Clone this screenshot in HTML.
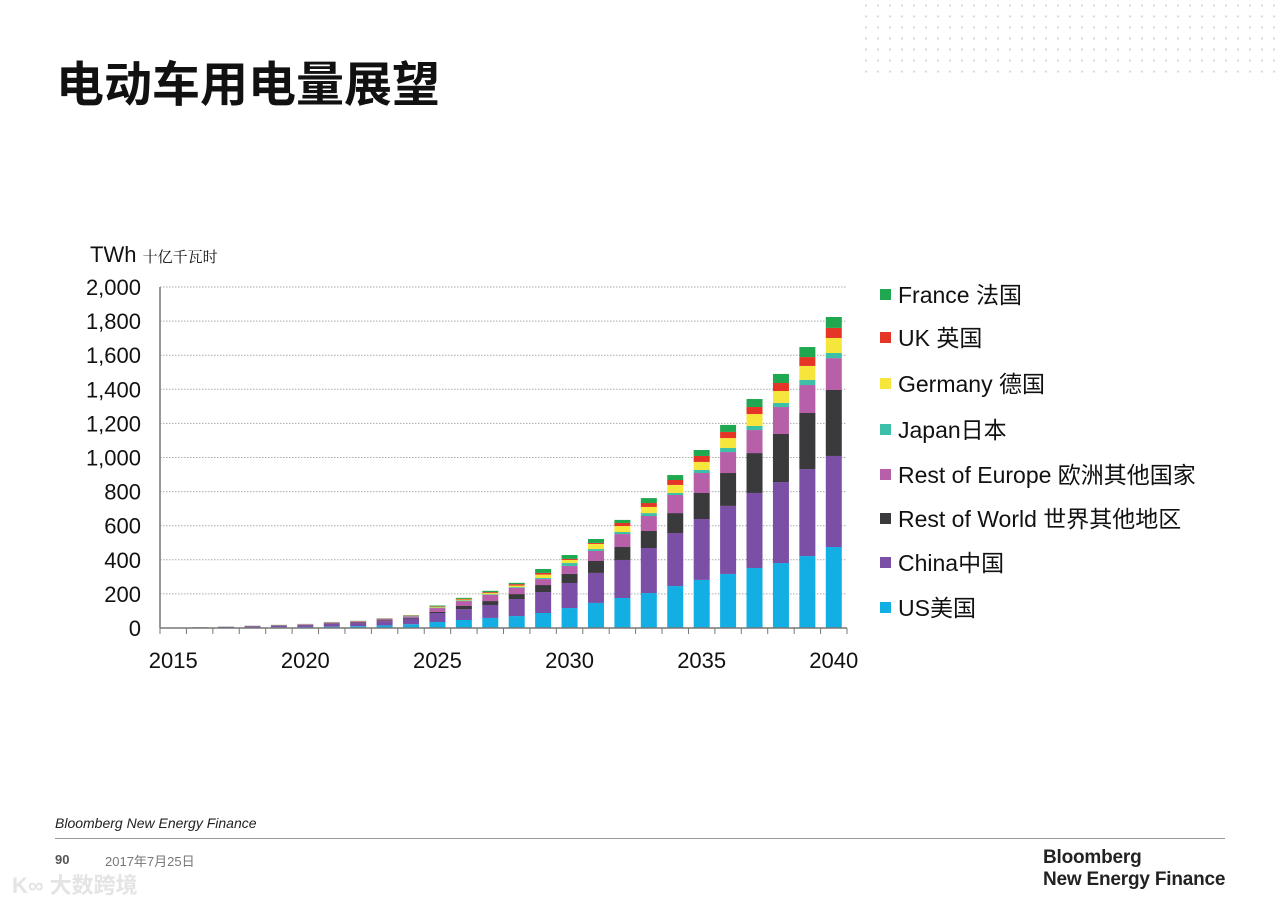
<!DOCTYPE html>
<html><head><meta charset="utf-8">
<style>
body{margin:0;width:1280px;height:904px;background:#fff;overflow:hidden;font-family:"Liberation Sans","Noto Sans CJK SC",sans-serif;position:relative}
.abs{position:absolute}
</style></head><body>
<div class="abs" style="left:860px;top:0;width:420px;height:80px;background-image:radial-gradient(circle,#d8d8d8 1px,transparent 1.3px);background-size:12px 11px;"></div>
<div class="abs" style="left:56px;top:50px;font-size:48px;font-weight:bold;color:#111;font-family:'Noto Sans CJK SC',sans-serif;line-height:60px">电动车用电量展望</div>
<svg class="abs" style="left:0;top:0" width="1280" height="904" id="chart"></svg>
<div class="abs" style="left:55px;top:815px;font-size:14px;font-style:italic;color:#222">Bloomberg New Energy Finance</div>
<div class="abs" style="left:55px;top:838px;width:1170px;height:1px;background:#999"></div>
<div class="abs" style="left:55px;top:852px;font-size:13px;font-weight:bold;color:#555">90</div>
<div class="abs" style="left:105px;top:851px;font-size:13px;color:#777">2017年7月25日</div>
<div class="abs" style="left:12px;top:868px;font-size:22px;font-weight:bold;color:#e4e4e4">K∞ 大数跨境</div>
<div class="abs" style="left:1043px;top:847px;font-size:19px;font-weight:bold;color:#222;line-height:22px;letter-spacing:-0.2px">Bloomberg<br>New Energy Finance</div>
<script>
const years=[2015,2016,2017,2018,2019,2020,2021,2022,2023,2024,2025,2026,2027,2028,2029,2030,2031,2032,2033,2034,2035,2036,2037,2038,2039,2040];
const seriesNames=["US美国","China中国","Rest of World 世界其他地区","Rest of Europe 欧洲其他国家","Japan日本","Germany 德国","UK 英国","France 法国"];
const us=[1,1.5,2,3,4,6,8,11,15,22,35,47,59,70,88,117,147,176,205,246,282,317,352,381,422,475];
const china=[1,2,4,6,9,11,16,18,25,33,53,64,76,100,123,147,176,223,264,311,357,399,440,475,510,534];
const restWorld=[0.3,0.5,1,1.5,2,2,3,4,5,5,6,18,23,29,41,53,70,76,100,117,153,193,234,282,329,387];
const restEurope=[0.5,0.7,1,2,2,3,5,5,9,8,23,29,36,36,35,47,59,76,88,106,117,123,135,158,164,187];
const japan=[0.1,0.2,0.3,0.5,0.5,0.5,1,1,1,2,3,4,4,5,6,17,11,12,17,12,18,24,24,24,30,30];
const germany=[0,0,0,0.3,0.5,0.5,1,1,1,2,4,5,7,9,20,18,30,35,36,47,47,58,70,70,82,88];
const uk=[0,0,0,0.2,0.3,0.3,0.5,1,1,2,3,4,5,8,10,6,6,18,23,29,35,36,41,47,52,59];
const france=[0.1,0.2,0.3,0.5,0.5,0.7,1,1,1,2,5,6,8,8,23,23,23,18,29,29,35,41,47,53,59,64];
const yTicks=[0,200,400,600,800,1000,1200,1400,1600,1800,2000];
const xLabels=[2015,2020,2025,2030,2035,2040];
const series=[us,china,restWorld,restEurope,japan,germany,uk,france];
const colors=["#13aee3","#7b4fa5","#3a3a3c","#b75fa8","#3dbfa8","#f6e53a","#e53526","#1fa84f"];
const keys=["us","china","rest-of-world","rest-of-europe","japan","germany","uk","france"];
const NS="http://www.w3.org/2000/svg";
const svg=document.getElementById('chart');
const y0=628,y1=287,x0=160,x1=847;
const yS=v=>y0-(v/2000)*(y0-y1);
const step=(x1-x0)/years.length;
const xS=yr=>x0+(years.indexOf(yr)+0.5)*step;
function el(t,a,p){const e=document.createElementNS(NS,t);for(const k in a)e.setAttribute(k,a[k]);(p||svg).appendChild(e);return e;}
yTicks.forEach(v=>{
  if(v>0){const g=el('line',{x1:x0,x2:x1,y1:yS(v),y2:yS(v),stroke:'#aaa','stroke-dasharray':'1.5,1.5','stroke-width':1});
  
  }
  const t=el('text',{x:141,y:yS(v)+8,'text-anchor':'end','font-size':22,fill:'#111'});
  t.textContent=v.toLocaleString('en-US');
  
  
});
const ttl=el('text',{x:90,y:262,'font-size':22,fill:'#111'});
ttl.innerHTML='TWh <tspan font-size="15" font-family="Noto Serif CJK SC, serif">十亿千瓦时</tspan>';


years.forEach((yr,i)=>{
  let acc=0;
  series.forEach((s,j)=>{
    const v=s[i];if(v<=0)return;
    const r=el('rect',{x:xS(yr)-8,width:16,y:yS(acc+v),height:yS(acc)-yS(acc+v),fill:colors[j]});
    
    
    acc+=v;
  });
});
const ax=el('line',{x1:x0,x2:x0,y1:y1,y2:y0,stroke:'#777','stroke-width':1.5});


const xa=el('line',{x1:x0,x2:x1,y1:y0,y2:y0,stroke:'#777','stroke-width':1.5});


for(let i=0;i<=years.length;i++){
  const tk=el('line',{x1:x0+i*step,x2:x0+i*step,y1:y0,y2:y0+6,stroke:'#777'});
  
  
}
xLabels.forEach(yr=>{
  const t=el('text',{x:xS(yr),y:668,'text-anchor':'middle','font-size':22,fill:'#111'});
  t.textContent=yr;
  
  
});
const legY=[608,563,519,475,430,384,338,295];
series.forEach((s,j)=>{
  const r=el('rect',{x:880,y:legY[j]-6,width:11,height:11,fill:colors[j]});
  
  
  const t=el('text',{x:898,y:legY[j]+8,'font-size':23,fill:'#111'});
  t.textContent=seriesNames[j];
  
  
});
</script>
</body></html>
